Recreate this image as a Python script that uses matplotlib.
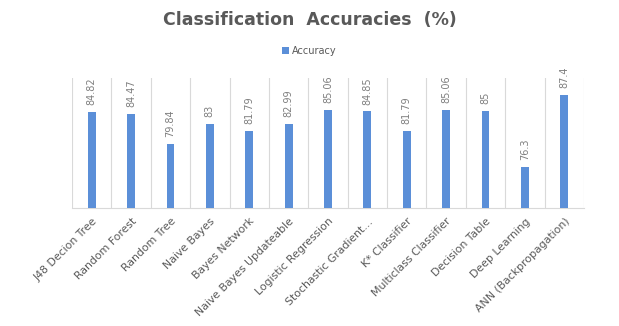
import numpy as np
import matplotlib
matplotlib.use("Agg")
import matplotlib.pyplot as plt

# classifier names and their accuracies (%)
classifiers = [
    "J48 Decion Tree",
    "Random Forest",
    "Random Tree",
    "Naive Bayes",
    "Bayes Network",
    "Naive Bayes Updateable",
    "Logistic Regression",
    "Stochastic Gradient\u2026",
    "K* Classifier",
    "Multiclass Classifier",
    "Decision Table",
    "Deep Learning",
    "ANN (Backpropagation)",
]
accuracy = [84.82, 84.47, 79.84, 83, 81.79, 82.99, 85.06, 84.85, 81.79, 85.06, 85, 76.3, 87.4]
value_labels = ["84.82", "84.47", "79.84", "83", "81.79", "82.99", "85.06",
                "84.85", "81.79", "85.06", "85", "76.3", "87.4"]

BLUE = "#5b8fd8"
GREY = "#595959"

fig = plt.figure(figsize=(6.19, 3.26), dpi=100)
ax = fig.add_axes([72 / 619, 1 - 208 / 326, (584 - 72) / 619, (208 - 78) / 326])

x = np.arange(len(classifiers))
bars = ax.bar(x, accuracy, width=0.2, color=BLUE, label="Accuracy", zorder=3)

for xi, v, lab in zip(x, accuracy, value_labels):
    ax.annotate(lab, (xi, v), xytext=(0, 5), textcoords="offset points",
                rotation=90, ha="center", va="bottom", fontsize=7, color="#7f7f7f")

ax.set_xlim(-0.5, len(classifiers) - 0.5)
ax.set_ylim(70, 90)
ax.set_yticks([])
ax.set_xticks(x)
ax.set_xticklabels(classifiers, rotation=45, ha="right", rotation_mode="anchor",
                   fontsize=7.8, color=GREY)
ax.tick_params(axis="x", length=0, pad=6)

# vertical separators between categories
for b in np.arange(-0.5, len(classifiers), 1.0):
    ax.axvline(b, color="#d9d9d9", lw=0.8, zorder=1)

for s in ["top", "left", "right"]:
    ax.spines[s].set_visible(False)
ax.spines["bottom"].set_color("#d9d9d9")

fig.text(0.5, 1 - 20 / 326, "Classification  Accuracies  (%)", ha="center", va="center",
         fontsize=12.5, fontweight="bold", color=GREY)

fig.legend(handles=[bars], labels=["Accuracy"], loc="center", bbox_to_anchor=(0.5, 1 - 51 / 326),
           frameon=False, fontsize=7, handlelength=0.7, handleheight=0.7, handletextpad=0.3,
           labelcolor=GREY)

fig.savefig("out.png", dpi=100)
